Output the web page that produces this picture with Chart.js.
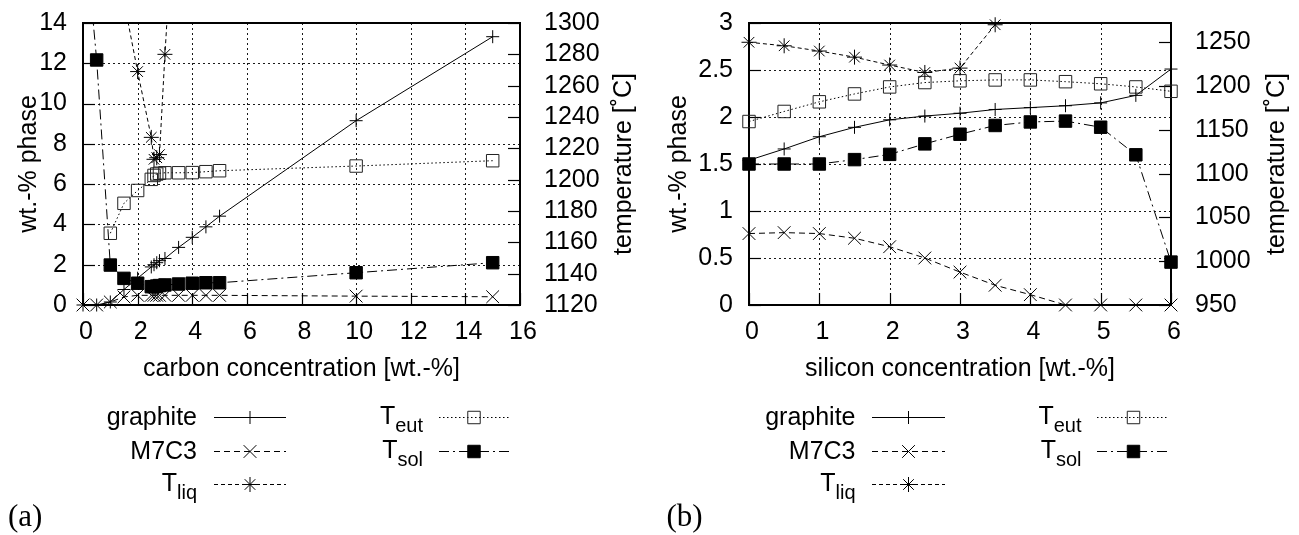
<!DOCTYPE html>
<html>
<head>
<meta charset="utf-8">
<script src="https://cdn.jsdelivr.net/npm/chart.js@4.4.1/dist/chart.umd.min.js"></script>
<style>
  html, body { margin: 0; padding: 0; background: #fff; }
  #wrap { position: relative; width: 1299px; height: 535px; overflow: hidden; background: #fff; }
  canvas { position: absolute; top: 0; }
  #panelA { left: 0; }
  #panelB { left: 650px; }
</style>
</head>
<body>
<div id="wrap">
  <canvas id="panelA" width="650" height="535"></canvas>
  <canvas id="panelB" width="649" height="535"></canvas>
</div>
<script>
// ---------- (a) phase fractions and temperatures vs. carbon ----------
const carbonPct  = [0, 0.5, 1, 1.5, 2, 2.5, 2.6, 2.7, 2.8, 3, 3.5, 4, 4.5, 5, 10, 15];
const cGraphite  = [0, 0, 0.15, 0.77, 1.33, 1.89, 2.0, 2.1, 2.2, 2.31, 2.86, 3.36, 3.88, 4.41, 9.15, 13.32];
const cM7C3      = [0, 0, 0.15, 0.4, 0.48, 0.48, 0.48, 0.48, 0.48, 0.48, 0.48, 0.48, 0.48, 0.48, 0.44, 0.41];
const cTliq      = [null, null, null, 1314, 1269, 1227, 1213, 1214, 1216, 1280, 1423, null, null, null, null, null];
const cTeut      = [null, null, 1165.8, 1184.9, 1193.1, 1200.2, 1202.7, 1203.6, 1204.1, 1204.4, 1204.4, 1204.5, 1205.1, 1205.7, 1208.7, 1212.1];
const cTsol      = [1372, 1276.4, 1145.5, 1137.0, 1133.9, 1131.7, 1131.7, 1132.1, 1132.4, 1132.8, 1133.4, 1133.9, 1134.2, 1134.2, 1140.6, 1147.0];

const carbonTicks = [0, 2, 4, 6, 8, 10, 12, 14, 16];
const cPhaseTicks = [0, 2, 4, 6, 8, 10, 12, 14];
const cTempTicks  = [1120, 1140, 1160, 1180, 1200, 1220, 1240, 1260, 1280, 1300];
const cTempRange  = [1120, 1300];

// ---------- (b) phase fractions and temperatures vs. silicon ----------
const siliconPct = [0, 0.5, 1, 1.5, 2, 2.5, 3, 3.5, 4, 4.5, 5, 5.5, 6];
const sGraphite  = [1.54, 1.66, 1.79, 1.89, 1.97, 2.01, 2.04, 2.08, 2.10, 2.12, 2.15, 2.23, 2.51];
const sM7C3      = [0.76, 0.77, 0.76, 0.71, 0.62, 0.50, 0.35, 0.21, 0.11, 0, 0, 0, 0];
const sTliq      = [1250, 1246, 1240, 1233, 1224, 1215.5, 1220.5, 1270, null, null, null, null, null];
const sTeut      = [1159.5, 1171, 1182, 1191, 1199, 1204, 1206, 1207, 1207, 1205, 1202.6, 1199, 1194];
const sTsol      = [1111, 1111, 1111, 1116, 1122, 1134, 1145, 1155, 1159, 1160, 1153, 1121.5, 999];

const siliconTicks = [0, 1, 2, 3, 4, 5, 6];
const sPhaseTicks  = [0, 0.5, 1, 1.5, 2, 2.5, 3];
const sTempTicks   = [950, 1000, 1050, 1100, 1150, 1200, 1250];
const sTempRange   = [950, 1272];

// ---------- series names (main text + subscript) ----------
const seriesMain = ['graphite', 'M7C3', 'T', 'T', 'T'];
const seriesSub  = ['', '', 'liq', 'eut', 'sol'];

const SANS = '"Liberation Sans", Arial, Helvetica, sans-serif';
const INK = '#000';

function pts(xs, ys) {
  return xs.map((x, i) => ({ x: x, y: ys[i] }));
}

// line and marker style for each of the five series
function seriesStyles() {
  return [
    { borderDash: [], pointStyle: 'cross', pointRadius: 6.5, fill: 'rgba(0,0,0,0)' },
    { borderDash: [6, 4], pointStyle: 'crossRot', pointRadius: 9, fill: 'rgba(0,0,0,0)' },
    { borderDash: [4, 3], pointStyle: 'star', pointRadius: 7.5, fill: 'rgba(0,0,0,0)' },
    { borderDash: [1.5, 2.5], pointStyle: 'rect', pointRadius: 8.8, fill: 'rgba(0,0,0,0)' },
    { borderDash: [10, 4, 2, 4], pointStyle: 'rect', pointRadius: 8.8, fill: '#000' }
  ];
}

function makeDatasets(xs, cols, clipTopFree) {
  const st = seriesStyles();
  const axes = ['y', 'y', 'y2', 'y2', 'y2'];
  return cols.map((ys, i) => ({
    label: seriesMain[i] + (seriesSub[i] ? '_' + seriesSub[i] : ''),
    data: pts(xs, ys),
    yAxisID: axes[i],
    borderColor: INK,
    borderWidth: 1,
    borderDash: st[i].borderDash,
    pointStyle: st[i].pointStyle,
    pointRadius: st[i].pointRadius,
    pointHoverRadius: st[i].pointRadius,
    pointBackgroundColor: st[i].fill,
    pointBorderColor: i === 3 ? '#222' : INK,
    pointBorderWidth: 1,
    tension: 0,
    fill: false,
    spanGaps: false,
    clip: clipTopFree[i] ? { left: 12, right: 12, bottom: 12, top: 12 } : { left: 12, right: 12, bottom: 12, top: 0 }
  }));
}

function drawMarker(ctx, ds, x, y) {
  ctx.save();
  ctx.fillStyle = ds.pointBackgroundColor;
  ctx.strokeStyle = ds.pointBorderColor;
  ctx.lineWidth = ds.pointBorderWidth;
  ctx.setLineDash([]);
  if (Chart.helpers && Chart.helpers.drawPoint) {
    Chart.helpers.drawPoint(ctx, { pointStyle: ds.pointStyle, radius: ds.pointRadius, borderWidth: ds.pointBorderWidth, rotation: 0 }, x, y);
  }
  ctx.restore();
}

// frame, grid, inward tick marks, axis titles, key and panel tag
const framePlugin = {
  id: 'frame',
  beforeDatasetsDraw(chart, args, o) {
    const ctx = chart.ctx;
    const a = chart.chartArea;
    const sx = chart.scales.x, sy = chart.scales.y, sy2 = chart.scales.y2;
    ctx.save();
    // dotted grid at x ticks and left-axis ticks
    ctx.strokeStyle = 'rgba(0,0,0,0.9)';
    ctx.lineWidth = 1;
    ctx.setLineDash([2, 3]);
    sx.ticks.forEach(t => {
      if (t.value <= sx.min || t.value >= sx.max) return;
      const px = Math.round(sx.getPixelForValue(t.value)) + 0.5;
      ctx.beginPath(); ctx.moveTo(px, a.bottom); ctx.lineTo(px, a.top); ctx.stroke();
    });
    sy.ticks.forEach(t => {
      if (t.value <= sy.min || t.value >= sy.max) return;
      const py = Math.round(sy.getPixelForValue(t.value)) + 0.5;
      ctx.beginPath(); ctx.moveTo(a.left, py); ctx.lineTo(a.right, py); ctx.stroke();
    });
    // inward tick marks
    ctx.setLineDash([]);
    ctx.strokeStyle = INK;
    ctx.lineWidth = 1.2;
    const TL = 12;
    sx.ticks.forEach(t => {
      const px = Math.round(sx.getPixelForValue(t.value)) + 0.5;
      ctx.beginPath(); ctx.moveTo(px, a.bottom); ctx.lineTo(px, a.bottom - TL); ctx.stroke();
    });
    sy.ticks.forEach(t => {
      const py = Math.round(sy.getPixelForValue(t.value)) + 0.5;
      ctx.beginPath(); ctx.moveTo(a.left, py); ctx.lineTo(a.left + TL, py); ctx.stroke();
    });
    sy2.ticks.forEach(t => {
      const py = Math.round(sy2.getPixelForValue(t.value)) + 0.5;
      ctx.beginPath(); ctx.moveTo(a.right, py); ctx.lineTo(a.right - TL, py); ctx.stroke();
    });
    // plot border
    ctx.lineWidth = 2;
    ctx.strokeRect(a.left, a.top, a.right - a.left, a.bottom - a.top);
    ctx.restore();
  },
  afterDraw(chart, args, o) {
    const ctx = chart.ctx;
    const a = chart.chartArea;
    const midY = (a.top + a.bottom) / 2;
    ctx.save();
    ctx.fillStyle = INK;
    ctx.font = '25px ' + SANS;
    ctx.textBaseline = 'alphabetic';
    // x title
    ctx.textAlign = 'center';
    ctx.fillText(o.xTitle, (a.left + a.right) / 2, o.xTitleY);
    // y titles, both reading upwards
    ctx.save();
    ctx.translate(o.yTitleX, midY);
    ctx.rotate(-Math.PI / 2);
    ctx.fillText(o.yTitle, 0, 0);
    ctx.restore();
    ctx.save();
    ctx.translate(o.y2TitleX, midY);
    ctx.rotate(-Math.PI / 2);
    ctx.fillText(o.y2Title, 0, 0);
    ctx.restore();

    // key
    const dsets = chart.data.datasets;
    o.key.forEach(k => {
      const ds = dsets[k.index];
      const col = o.cols[k.col];
      const y = o.rows[k.row];
      const main = seriesMain[k.index], sub = seriesSub[k.index];
      ctx.textAlign = 'left';
      ctx.font = '25px ' + SANS;
      const wMain = ctx.measureText(main).width;
      ctx.font = '20px ' + SANS;
      const wSub = sub ? ctx.measureText(sub).width : 0;
      const x0 = col.textRight - wMain - wSub;
      ctx.font = '25px ' + SANS;
      ctx.fillText(main, x0, y + (sub ? 7 : 8));
      if (sub) {
        ctx.font = '20px ' + SANS;
        ctx.fillText(sub, x0 + wMain, y + 15);
      }
      // sample line
      ctx.save();
      ctx.strokeStyle = ds.borderColor;
      ctx.lineWidth = ds.borderWidth;
      ctx.setLineDash(ds.borderDash);
      ctx.beginPath();
      ctx.moveTo(col.lineStart, Math.round(y) + 0.5);
      ctx.lineTo(col.lineEnd, Math.round(y) + 0.5);
      ctx.stroke();
      ctx.restore();
      drawMarker(ctx, ds, col.marker, Math.round(y) + 0.5);
    });

    // panel tag
    ctx.font = '31px "Liberation Serif", "DejaVu Serif", serif';
    ctx.textAlign = 'left';
    ctx.fillText(o.tag, o.tagX, o.tagY);
    ctx.restore();
  }
};

function fixedTicks(values) {
  return scale => { scale.ticks = values.map(v => ({ value: v })); };
}

// fixed box size for a scale, without label overhang feeding back into the layout
function fixedBox(prop, size) {
  return scale => {
    scale[prop] = size;
    scale.paddingTop = 0;
    scale.paddingBottom = 0;
    scale.paddingLeft = 0;
    scale.paddingRight = 0;
  };
}

function buildChart(id, p) {
  const tickFont = { family: SANS, size: 25 };
  return new Chart(document.getElementById(id), {
    type: 'line',
    data: { datasets: p.datasets },
    plugins: [framePlugin],
    options: {
      responsive: false,
      animation: false,
      devicePixelRatio: 1,
      events: [],
      layout: { padding: { top: 23, left: 0, right: 0, bottom: 0 } },
      scales: {
        x: {
          type: 'linear', position: 'bottom', min: p.xRange[0], max: p.xRange[1],
          afterBuildTicks: fixedTicks(p.xTicks),
          afterFit: fixedBox('height', 230),
          grid: { display: false, drawTicks: false }, border: { display: false },
          ticks: { font: tickFont, color: INK, padding: 12, labelOffset: 3, maxRotation: 0, autoSkip: false, callback: v => String(v) }
        },
        y: {
          type: 'linear', position: 'left', min: p.yRange[0], max: p.yRange[1],
          afterBuildTicks: fixedTicks(p.yTicks),
          afterFit: fixedBox('width', p.leftWidth),
          grid: { display: false, drawTicks: false }, border: { display: false },
          ticks: { font: tickFont, color: INK, padding: 16, autoSkip: false, callback: v => String(v) }
        },
        y2: {
          type: 'linear', position: 'right', min: p.y2Range[0], max: p.y2Range[1],
          afterBuildTicks: fixedTicks(p.y2Ticks),
          afterFit: fixedBox('width', p.rightWidth),
          grid: { display: false, drawTicks: false }, border: { display: false },
          ticks: { font: tickFont, color: INK, padding: 24, autoSkip: false, callback: v => String(v) }
        }
      },
      plugins: {
        legend: { display: false },
        tooltip: { enabled: false },
        frame: p.frame
      }
    }
  });
}

const keyLayout = [
  { index: 0, col: 0, row: 0 },
  { index: 1, col: 0, row: 1 },
  { index: 2, col: 0, row: 2 },
  { index: 3, col: 1, row: 0 },
  { index: 4, col: 1, row: 1 }
];
const keyRows = [417, 450.5, 484];

buildChart('panelA', {
  datasets: makeDatasets(carbonPct, [cGraphite, cM7C3, cTliq, cTeut, cTsol], [true, true, false, true, false]),
  xRange: [0, 16], xTicks: carbonTicks,
  yRange: [0, 14], yTicks: cPhaseTicks,
  y2Range: cTempRange, y2Ticks: cTempTicks,
  leftWidth: 83, rightWidth: 130,
  frame: {
    xTitle: 'carbon concentration [wt.-%]', xTitleY: 376,
    yTitle: 'wt.-% phase', yTitleX: 35.5,
    y2Title: 'temperature [˚C]', y2TitleX: 631,
    cols: [
      { textRight: 197, lineStart: 214, lineEnd: 286, marker: 250 },
      { textRight: 423, lineStart: 439, lineEnd: 509, marker: 474 }
    ],
    rows: keyRows, key: keyLayout,
    tag: '(a)', tagX: 8, tagY: 526
  }
});

buildChart('panelB', {
  datasets: makeDatasets(siliconPct, [sGraphite, sM7C3, sTliq, sTeut, sTsol], [true, true, true, true, true]),
  xRange: [0, 6], xTicks: siliconTicks,
  yRange: [0, 3], yTicks: sPhaseTicks,
  y2Range: sTempRange, y2Ticks: sTempTicks,
  leftWidth: 99, rightWidth: 128,
  frame: {
    xTitle: 'silicon concentration [wt.-%]', xTitleY: 376,
    yTitle: 'wt.-% phase', yTitleX: 35.5,
    y2Title: 'temperature [˚C]', y2TitleX: 634,
    cols: [
      { textRight: 205.5, lineStart: 222, lineEnd: 295, marker: 258.5 },
      { textRight: 431.5, lineStart: 447, lineEnd: 518, marker: 483.5 }
    ],
    rows: keyRows, key: keyLayout,
    tag: '(b)', tagX: 16.5, tagY: 526
  }
});
</script>
</body>
</html>
